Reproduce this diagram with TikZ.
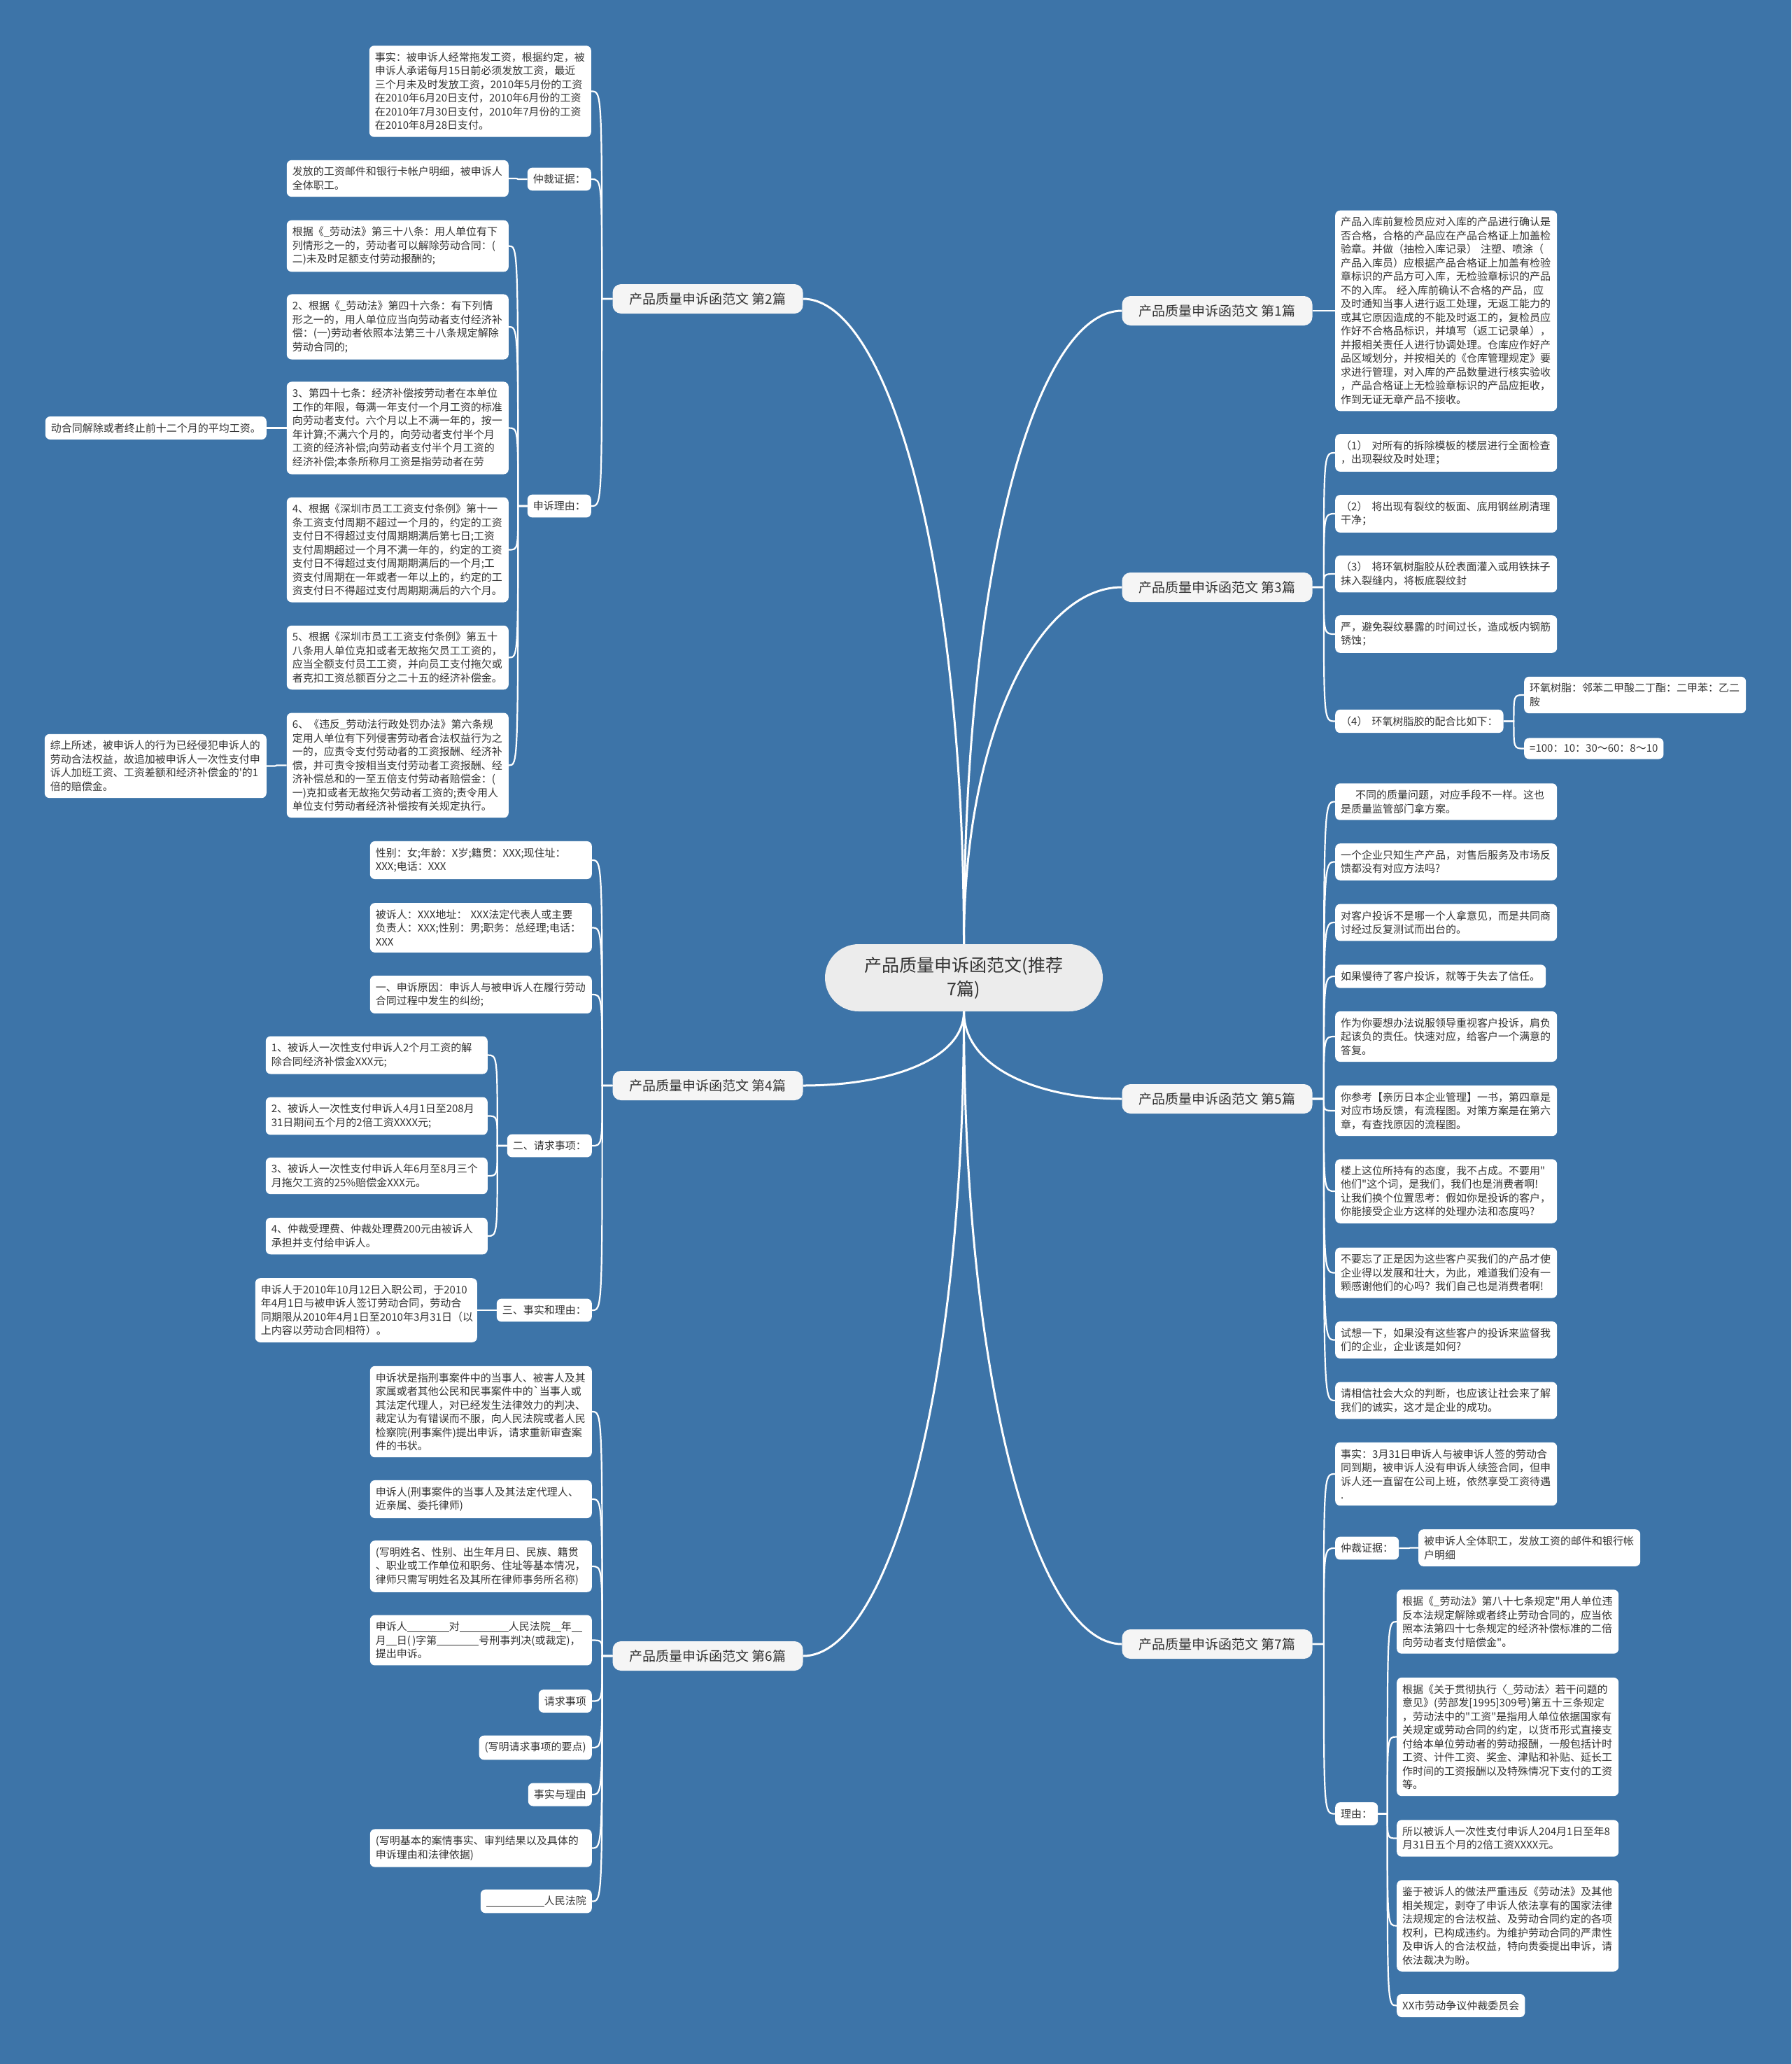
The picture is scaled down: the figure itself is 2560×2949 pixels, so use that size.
\documentclass[tikz,border=0pt]{standalone}
\usepackage{fontspec}
\defaultfontfeatures{}
\setmainfont{Noto Sans CJK SC}[Ligatures=TeXOff]
\usetikzlibrary{calc}

\definecolor{bgblue}{RGB}{61,116,168}
\definecolor{ink}{RGB}{51,51,51}
\definecolor{rootfill}{RGB}{236,236,236}
\definecolor{topicfill}{RGB}{245,245,245}

% bracket-like link: stub to the middle, then bend into the child
\newcommand{\twig}[2]{\draw[twigline] let \p1=(#1), \p2=(#2) in (\p1) -- ({(\x1+\x2)/2},\y1) .. controls ({(\x1+\x2)/2},\y2) and ({(\x1+\x2)/2},\y2) .. (\p2);}
\newcommand{\blank}[1]{\rule[-2pt]{#1}{0.9pt}}

\begin{document}
\begin{tikzpicture}[x=1pt, y=-1pt,
    root/.style={fill=rootfill, rounded corners=48pt, minimum width=397pt, minimum height=96pt, inner sep=0pt, align=center, font=\fontsize{25}{34}\selectfont, text=ink},
    topic/.style={fill=topicfill, rounded corners=12pt, minimum width=272pt, minimum height=42pt, inner sep=0pt, font=\fontsize{19}{24}\selectfont, text=ink},
    leaf/.style={fill=white, rounded corners=7pt, inner xsep=8pt, inner ysep=9.5pt, align=left, font=\fontsize{15}{19.5}\selectfont, text=ink},
    wide/.style={leaf, text width=301pt},
    trunkline/.style={white, line width=3pt},
    twigline/.style={white, line width=2.2pt}]

  \fill[bgblue] (0,0) rectangle (2560,2949);
  \useasboundingbox (0,0) rectangle (2560,2949);

  % centre and the seven branches
  \node[root] (root) at (1377.5,1397) {产品质量申诉函范文(推荐\\7篇)};
  \node[topic] (b1) at (1739.5,444) {产品质量申诉函范文 第1篇};
  \node[topic] (b2) at (1011.5,427) {产品质量申诉函范文 第2篇};
  \node[topic] (b3) at (1739.5,839) {产品质量申诉函范文 第3篇};
  \node[topic] (b4) at (1011.5,1551) {产品质量申诉函范文 第4篇};
  \node[topic] (b5) at (1739.5,1570) {产品质量申诉函范文 第5篇};
  \node[topic] (b6) at (1011.5,2366) {产品质量申诉函范文 第6篇};
  \node[topic] (b7) at (1739.5,2349) {产品质量申诉函范文 第7篇};

  \draw[trunkline] (root.north) .. controls +(0,-550) and +(-120,0) .. (b1.west);
  \draw[trunkline] (root.north) .. controls +(0,-550) and +(120,0) .. (b2.east);
  \draw[trunkline] (root.north) .. controls +(0,-300) and +(-120,0) .. (b3.west);
  \draw[trunkline] (root.south) .. controls +(0,70) and +(120,0) .. (b4.east);
  \draw[trunkline] (root.south) .. controls +(0,80) and +(-120,0) .. (b5.west);
  \draw[trunkline] (root.south) .. controls +(0,550) and +(120,0) .. (b6.east);
  \draw[trunkline] (root.south) .. controls +(0,540) and +(-120,0) .. (b7.west);

  % 第2篇
  \node[wide, anchor=east] (fact2) at (845,130.5) {事实：被申诉人经常拖发工资，根据约定，被\\申诉人承诺每月15日前必须发放工资，最近\\三个月未及时发放工资，2010年5月份的工资\\在2010年6月20日支付，2010年6月份的工资\\在2010年7月30日支付，2010年7月份的工资\\在2010年8月28日支付。};
  \node[leaf, anchor=east] (evid2) at (845,256) {仲裁证据：};
  \node[wide, anchor=east] (evidtxt2) at (727,255) {发放的工资邮件和银行卡帐户明细，被申诉人\\全体职工。};
  \node[leaf, anchor=east] (reason2) at (845,723) {申诉理由：};
  \node[wide, anchor=east] (law1) at (727,351.5) {根据《\_劳动法》第三十八条：用人单位有下\\列情形之一的，劳动者可以解除劳动合同：(\\二)未及时足额支付劳动报酬的;};
  \node[wide, anchor=east] (law2) at (727,467) {2、根据《\_劳动法》第四十六条：有下列情\\形之一的，用人单位应当向劳动者支付经济补\\偿：(一)劳动者依照本法第三十八条规定解除\\劳动合同的;};
  \node[wide, anchor=east] (law3) at (727,611.5) {3、第四十七条：经济补偿按劳动者在本单位\\工作的年限，每满一年支付一个月工资的标准\\向劳动者支付。六个月以上不满一年的，按一\\年计算;不满六个月的，向劳动者支付半个月\\工资的经济补偿;向劳动者支付半个月工资的\\经济补偿;本条所称月工资是指劳动者在劳};
  \node[leaf, anchor=east] (law3b) at (381,611.5) {动合同解除或者终止前十二个月的平均工资。};
  \node[wide, anchor=east] (law4) at (727,785.5) {4、根据《深圳市员工工资支付条例》第十一\\条工资支付周期不超过一个月的，约定的工资\\支付日不得超过支付周期期满后第七日;工资\\支付周期超过一个月不满一年的，约定的工资\\支付日不得超过支付周期期满后的一个月;工\\资支付周期在一年或者一年以上的，约定的工\\资支付日不得超过支付周期期满后的六个月。};
  \node[wide, anchor=east] (law5) at (727,939.5) {5、根据《深圳市员工工资支付条例》第五十\\八条用人单位克扣或者无故拖欠员工工资的，\\应当全额支付员工工资，并向员工支付拖欠或\\者克扣工资总额百分之二十五的经济补偿金。};
  \node[wide, anchor=east] (law6) at (727,1093.5) {6、《违反\_劳动法行政处罚办法》第六条规\\定用人单位有下列侵害劳动者合法权益行为之\\一的，应责令支付劳动者的工资报酬、经济补\\偿，并可责令按相当支付劳动者工资报酬、经\\济补偿总和的一至五倍支付劳动者赔偿金：(\\一)克扣或者无故拖欠劳动者工资的;责令用人\\单位支付劳动者经济补偿按有关规定执行。};
  \node[wide, anchor=east] (law6b) at (381,1094.5) {综上所述，被申诉人的行为已经侵犯申诉人的\\劳动合法权益，故追加被申诉人一次性支付申\\诉人加班工资、工资差额和经济补偿金的'的1\\倍的赔偿金。};

  \twig{b2.west}{fact2.east}
  \twig{b2.west}{evid2.east}
  \twig{b2.west}{reason2.east}
  \twig{evid2.west}{evidtxt2.east}
  \foreach \k in {law1,law2,law3,law4,law5,law6}
    \twig{reason2.west}{\k.east};
  \twig{law3.west}{law3b.east}
  \twig{law6.west}{law6b.east}

  % 第4篇
  \node[wide, anchor=east] (info4a) at (846,1229) {性别：女;年龄：X岁;籍贯：XXX;现住址：\\XXX;电话：XXX};
  \node[wide, anchor=east] (info4b) at (846,1325.5) {被诉人：XXX地址： XXX法定代表人或主要\\负责人：XXX;性别：男;职务：总经理;电话：\\XXX};
  \node[wide, anchor=east] (cause4) at (846,1421) {一、申诉原因：申诉人与被申诉人在履行劳动\\合同过程中发生的纠纷;};
  \node[leaf, anchor=east] (claim4) at (846,1637) {二、请求事项：};
  \node[leaf, anchor=east] (ground4) at (846,1872) {三、事实和理由：};
  \node[wide, anchor=east] (ask1) at (697,1507.5) {1、被诉人一次性支付申诉人2个月工资的解\\除合同经济补偿金XXX元;};
  \node[wide, anchor=east] (ask2) at (697,1594.5) {2、被诉人一次性支付申诉人4月1日至208月\\31日期间五个月的2倍工资XXXX元;};
  \node[wide, anchor=east] (ask3) at (697,1680) {3、被诉人一次性支付申诉人年6月至8月三个\\月拖欠工资的25\%赔偿金XXX元。};
  \node[wide, anchor=east] (ask4) at (697,1766) {4、仲裁受理费、仲裁处理费200元由被诉人\\承担并支付给申诉人。};
  \node[wide, anchor=east] (groundtxt4) at (682,1872) {申诉人于2010年10月12日入职公司，于2010\\年4月1日与被申诉人签订劳动合同，劳动合\\同期限从2010年4月1日至2010年3月31日（以\\上内容以劳动合同相符）。};

  \foreach \k in {info4a,info4b,cause4,claim4,ground4}
    \twig{b4.west}{\k.east};
  \foreach \k in {ask1,ask2,ask3,ask4}
    \twig{claim4.west}{\k.east};
  \twig{ground4.west}{groundtxt4.east}

  % 第6篇
  \node[wide, anchor=east] (form1) at (846,2017) {申诉状是指刑事案件中的当事人、被害人及其\\家属或者其他公民和民事案件中的`当事人或\\其法定代理人，对已经发生法律效力的判决、\\裁定认为有错误而不服，向人民法院或者人民\\检察院(刑事案件)提出申诉，请求重新审查案\\件的书状。};
  \node[wide, anchor=east] (form2) at (846,2142) {申诉人(刑事案件的当事人及其法定代理人、\\近亲属、委托律师)};
  \node[wide, anchor=east] (form3) at (846,2238) {(写明姓名、性别、出生年月日、民族、籍贯\\、职业或工作单位和职务、住址等基本情况，\\律师只需写明姓名及其所在律师事务所名称)};
  \node[wide, anchor=east] (form4) at (846,2343.5) {申诉人\blank{60pt}对\blank{70pt}人民法院\blank{15pt}年\blank{15pt}\\月\blank{15pt}日(\,)字第\blank{60pt}号刑事判决(或裁定)，\\提出申诉。};
  \node[leaf, anchor=east] (form5) at (846,2430.5) {请求事项};
  \node[leaf, anchor=east] (form6) at (846,2497) {(写明请求事项的要点)};
  \node[leaf, anchor=east] (form7) at (846,2564) {事实与理由};
  \node[wide, anchor=east] (form8) at (846,2640.5) {(写明基本的案情事实、审判结果以及具体的\\申诉理由和法律依据)};
  \node[leaf, anchor=east] (form9) at (846,2716.5) {\blank{83pt}人民法院};

  \foreach \k in {form1,form2,form3,form4,form5,form6,form7,form8,form9}
    \twig{b6.west}{\k.east};

  % 第1篇
  \node[wide, anchor=west] (intake1) at (1908,444) {产品入库前复检员应对入库的产品进行确认是\\否合格，合格的产品应在产品合格证上加盖检\\验章。并做（抽检入库记录） 注塑、喷涂（\\产品入库员）应根据产品合格证上加盖有检验\\章标识的产品方可入库，无检验章标识的产品\\不的入库。 经入库前确认不合格的产品，应\\及时通知当事人进行返工处理，无返工能力的\\或其它原因造成的不能及时返工的，复检员应\\作好不合格品标识，并填写（返工记录单），\\并报相关责任人进行协调处理。仓库应作好产\\品区域划分，并按相关的《仓库管理规定》要\\求进行管理，对入库的产品数量进行核实验收\\，产品合格证上无检验章标识的产品应拒收，\\作到无证无章产品不接收。};
  \twig{b1.east}{intake1.west}

  % 第3篇
  \node[wide, anchor=west] (crack1) at (1908,647) {（1）\hspace{6pt}对所有的拆除模板的楼层进行全面检查\\，出现裂纹及时处理；};
  \node[wide, anchor=west] (crack2) at (1908,734) {（2）\hspace{6pt}将出现有裂纹的板面、底用钢丝刷清理\\干净；};
  \node[wide, anchor=west] (crack3) at (1908,820) {（3）\hspace{6pt}将环氧树脂胶从砼表面灌入或用铁抹子\\抹入裂缝内，将板底裂纹封};
  \node[wide, anchor=west] (crack4) at (1908,906) {严，避免裂纹暴露的时间过长，造成板内钢筋\\锈蚀；};
  \node[leaf, anchor=west] (mix3) at (1908,1030.5) {（4）\hspace{6pt}环氧树脂胶的配合比如下：};
  \node[wide, anchor=west] (mix3a) at (2178,993) {环氧树脂：邻苯二甲酸二丁酯：二甲苯：乙二\\胺};
  \node[leaf, anchor=west] (mix3b) at (2178,1069.5) {=100：10：30～60：8～10};

  \foreach \k in {crack1,crack2,crack3,crack4,mix3}
    \twig{b3.east}{\k.west};
  \twig{mix3.east}{mix3a.west}
  \twig{mix3.east}{mix3b.west}

  % 第5篇
  \node[wide, anchor=west] (tip1) at (1908,1145.5) {\hspace*{21pt}不同的质量问题，对应手段不一样。这也\\是质量监管部门拿方案。};
  \node[wide, anchor=west] (tip2) at (1908,1231.5) {一个企业只知生产产品，对售后服务及市场反\\馈都没有对应方法吗?};
  \node[wide, anchor=west] (tip3) at (1908,1318) {对客户投诉不是哪一个人拿意见，而是共同商\\讨经过反复测试而出台的。};
  \node[leaf, anchor=west] (tip4) at (1908,1395) {如果慢待了客户投诉，就等于失去了信任。};
  \node[wide, anchor=west] (tip5) at (1908,1481) {作为你要想办法说服领导重视客户投诉，肩负\\起该负的责任。快速对应，给客户一个满意的\\答复。};
  \node[wide, anchor=west] (tip6) at (1908,1587) {你参考【亲历日本企业管理】一书，第四章是\\对应市场反馈，有流程图。对策方案是在第六\\章，有查找原因的流程图。};
  \node[wide, anchor=west] (tip7) at (1908,1702) {楼上这位所持有的态度，我不占成。不要用"\\他们"这个词，是我们，我们也是消费者啊!\\让我们换个位置思考：假如你是投诉的客户，\\你能接受企业方这样的处理办法和态度吗?};
  \node[wide, anchor=west] (tip8) at (1908,1818.5) {不要忘了正是因为这些客户买我们的产品才使\\企业得以发展和壮大，为此，难道我们没有一\\颗感谢他们的心吗？我们自己也是消费者啊!};
  \node[wide, anchor=west] (tip9) at (1908,1914.5) {试想一下，如果没有这些客户的投诉来监督我\\们的企业，企业该是如何?};
  \node[wide, anchor=west] (tip10) at (1908,2001) {请相信社会大众的判断，也应该让社会来了解\\我们的诚实，这才是企业的成功。};

  \foreach \k in {tip1,tip2,tip3,tip4,tip5,tip6,tip7,tip8,tip9,tip10}
    \twig{b5.east}{\k.west};

  % 第7篇
  \node[wide, anchor=west] (fact7) at (1908,2106) {事实：3月31日申诉人与被申诉人签的劳动合\\同到期，被申诉人没有申诉人续签合同，但申\\诉人还一直留在公司上班，依然享受工资待遇\\.};
  \node[leaf, anchor=west] (evid7) at (1908,2212) {仲裁证据：};
  \node[wide, anchor=west] (evidtxt7) at (2027,2211.5) {被申诉人全体职工，发放工资的邮件和银行帐\\户明细};
  \node[leaf, anchor=west] (reason7) at (1908,2591.5) {理由：};
  \node[wide, anchor=west] (why1) at (1996,2317) {根据《\_劳动法》第八十七条规定"用人单位违\\反本法规定解除或者终止劳动合同的，应当依\\照本法第四十七条规定的经济补偿标准的二倍\\向劳动者支付赔偿金"。};
  \node[wide, anchor=west] (why2) at (1996,2481.5) {根据《关于贯彻执行〈\_劳动法〉若干问题的\\意见》(劳部发[1995]309号)第五十三条规定\\，劳动法中的"工资"是指用人单位依据国家有\\关规定或劳动合同的约定，以货币形式直接支\\付给本单位劳动者的劳动报酬，一般包括计时\\工资、计件工资、奖金、津贴和补贴、延长工\\作时间的工资报酬以及特殊情况下支付的工资\\等。};
  \node[wide, anchor=west] (why3) at (1996,2626.5) {所以被诉人一次性支付申诉人204月1日至年8\\月31日五个月的2倍工资XXXX元。};
  \node[wide, anchor=west] (why4) at (1996,2751.5) {鉴于被诉人的做法严重违反《劳动法》及其他\\相关规定，剥夺了申诉人依法享有的国家法律\\法规规定的合法权益、及劳动合同约定的各项\\权利，已构成违约。为维护劳动合同的严肃性\\及申诉人的合法权益，特向贵委提出申诉，请\\依法裁决为盼。};
  \node[leaf, anchor=west] (why5) at (1996,2865.5) {XX市劳动争议仲裁委员会};

  \twig{b7.east}{fact7.west}
  \twig{b7.east}{evid7.west}
  \twig{b7.east}{reason7.west}
  \twig{evid7.east}{evidtxt7.west}
  \foreach \k in {why1,why2,why3,why4,why5}
    \twig{reason7.east}{\k.west};
\end{tikzpicture}
\end{document}
